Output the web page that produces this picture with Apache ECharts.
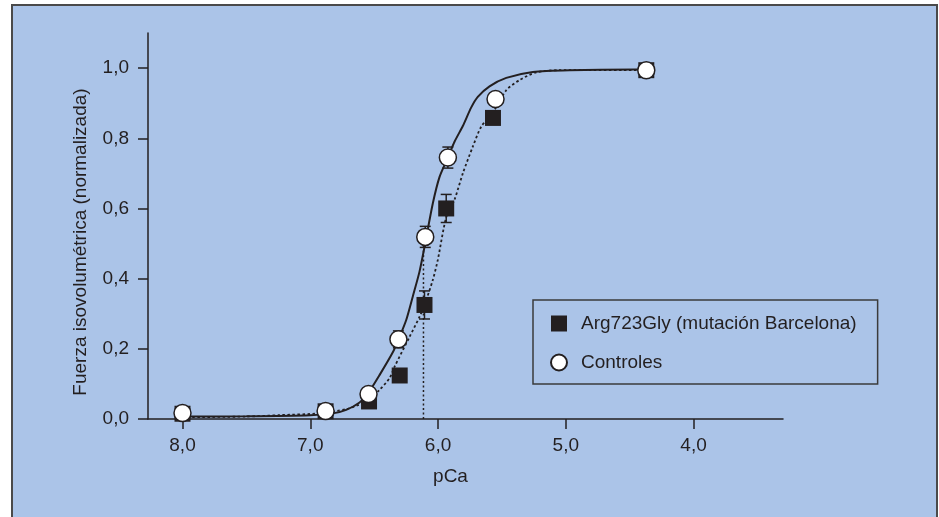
<!DOCTYPE html>
<html>
<head>
<meta charset="utf-8">
<script src="https://cdn.jsdelivr.net/npm/echarts@6/dist/echarts.min.js"></script>
<style>
    html, body { margin: 0; padding: 0; background: #fff; }
    #echart { width: 939px; height: 517px; }
</style>
</head>
<body>
<div id="echart"></div>
<script>
// ticks
var xTicks = [8, 7, 6, 5, 4];
var yTicks = [0, 0.2, 0.4, 0.6, 0.8, 1.0];

// Arg723Gly (cuadrados)
var mutX = [8.0, 6.88, 6.54, 6.30, 6.106, 5.936, 5.57, 4.37];
var mutY = [0.015, 0.022, 0.05, 0.124, 0.325, 0.600, 0.858, 0.994];
var mutErr = [0, 0.008, 0.008, 0.01, 0.04, 0.04, 0.01, 0];

// Controles (circulos)
var ctrlX = [8.0, 6.88, 6.544, 6.31, 6.10, 5.923, 5.55, 4.37];
var ctrlY = [0.017, 0.023, 0.071, 0.227, 0.519, 0.745, 0.912, 0.994];
var ctrlErr = [0.005, 0.01, 0.01, 0.024, 0.03, 0.03, 0.01, 0];

// curvas ajustadas
var ctrlCurveX = [8.0, 7.5, 7.0, 6.823, 6.719, 6.614, 6.55, 6.458, 6.354, 6.309, 6.249, 6.197, 6.145, 6.106, 6.041, 5.988, 5.923, 5.871, 5.806, 5.74, 5.689, 5.597, 5.466, 5.258, 4.971, 4.449, 4.37];
var ctrlCurveY = [0.007, 0.008, 0.011, 0.016, 0.026, 0.047, 0.072, 0.125, 0.19, 0.227, 0.282, 0.35, 0.42, 0.49, 0.614, 0.69, 0.745, 0.79, 0.835, 0.888, 0.918, 0.948, 0.972, 0.989, 0.994, 0.996, 0.996];
var mutCurveX = [8.0, 7.5, 7.241, 6.928, 6.719, 6.589, 6.542, 6.458, 6.38, 6.34, 6.223, 6.145, 6.106, 6.041, 6.002, 5.936, 5.871, 5.806, 5.728, 5.662, 5.568, 5.466, 5.362, 5.231, 5.049, 4.37];
var mutCurveY = [0.005, 0.007, 0.011, 0.016, 0.028, 0.045, 0.055, 0.083, 0.116, 0.149, 0.234, 0.291, 0.325, 0.396, 0.453, 0.575, 0.625, 0.70, 0.776, 0.833, 0.875, 0.937, 0.966, 0.988, 0.994, 0.994];

// linea vertical pCa50
var pca50X = [6.114, 6.114];
var pca50Y = [0, 0.5];

var ink = '#231f20';
var font = 'Liberation Sans';
var fs = 19;

function pairs(xs, ys) {
    var out = [];
    for (var i = 0; i < xs.length; i++) {
        out.push([xs[i], ys[i]]);
    }
    return out;
}

function errorSeries(name, xs, ys, errs) {
    var data = [];
    for (var i = 0; i < xs.length; i++) {
        if (errs[i] > 0) data.push([xs[i], ys[i] - errs[i], ys[i] + errs[i]]);
    }
    return {
        type: 'custom',
        name: name,
        silent: true,
        z: 4,
        encode: {x: 0, y: [1, 2]},
        data: data,
        renderItem: function (params, api) {
            var lo = api.coord([api.value(0), api.value(1)]);
            var hi = api.coord([api.value(0), api.value(2)]);
            var w = 5.5;
            var st = {stroke: ink, lineWidth: 1.5};
            return {
                type: 'group',
                children: [
                    {type: 'line', shape: {x1: lo[0], y1: lo[1], x2: hi[0], y2: hi[1]}, style: st},
                    {type: 'line', shape: {x1: lo[0] - w, y1: lo[1], x2: lo[0] + w, y2: lo[1]}, style: st},
                    {type: 'line', shape: {x1: hi[0] - w, y1: hi[1], x2: hi[0] + w, y2: hi[1]}, style: st}
                ]
            };
        }
    };
}

function fmt(v) {
    return v.toFixed(1).replace('.', ',');
}

var myChart = echarts.init(document.getElementById('echart'));
myChart.setOption({
    backgroundColor: '#fff',
    animation: false,
    textStyle: {fontFamily: font},
    graphic: [{
        type: 'rect',
        z: -10,
        shape: {x: 12, y: 5, width: 925, height: 530},
        style: {fill: '#abc4e8', stroke: '#4a4a4a', lineWidth: 2}
    }],
    grid: {left: 148, right: 156, top: 33, bottom: 98},
    legend: {
        orient: 'vertical',
        left: 533,
        top: 300,
        padding: [14, 21, 12, 17],
        itemGap: 20,
        itemWidth: 16,
        itemHeight: 16,
        borderColor: '#3b3b3b',
        borderWidth: 1.5,
        data: ['Arg723Gly (mutación Barcelona)', 'Controles'],
        textStyle: {color: ink, fontSize: fs, fontFamily: font, padding: [0, 0, 0, 9]}
    },
    xAxis: {
        type: 'value',
        inverse: true,
        min: 3.3,
        max: 8.27,
        name: 'pCa',
        nameLocation: 'middle',
        nameGap: 48,
        nameTextStyle: {color: ink, fontSize: fs, fontFamily: font, padding: [0, 30, 0, 0]},
        axisLine: {onZero: false, lineStyle: {color: ink, width: 1.5}},
        axisTick: {customValues: xTicks, length: 10, lineStyle: {color: ink, width: 1.5}},
        axisLabel: {customValues: xTicks, margin: 17, color: ink, fontSize: fs, fontFamily: font, formatter: fmt},
        splitLine: {show: false}
    },
    yAxis: {
        type: 'value',
        min: 0,
        max: 1.1,
        name: 'Fuerza isovolumétrica (normalizada)',
        nameLocation: 'middle',
        nameGap: 58,
        nameTextStyle: {color: ink, fontSize: fs, fontFamily: font, padding: [0, 32, 0, 0]},
        axisLine: {show: true, onZero: false, lineStyle: {color: ink, width: 1.5}},
        axisTick: {show: true, customValues: yTicks, length: 10, lineStyle: {color: ink, width: 1.5}},
        axisLabel: {customValues: yTicks, margin: 19, color: ink, fontSize: fs, fontFamily: font, formatter: fmt},
        splitLine: {show: false}
    },
    series: [
        {
            name: 'curva mut',
            type: 'line',
            smooth: 0.25,
            symbol: 'none',
            silent: true,
            z: 2,
            lineStyle: {color: ink, width: 1.8, type: [2.5, 2.5]},
            data: pairs(mutCurveX, mutCurveY)
        },
        {
            name: 'curva ctrl',
            type: 'line',
            smooth: 0.25,
            symbol: 'none',
            silent: true,
            z: 2,
            lineStyle: {color: ink, width: 2},
            data: pairs(ctrlCurveX, ctrlCurveY)
        },
        {
            name: 'pCa50',
            type: 'line',
            symbol: 'none',
            silent: true,
            z: 2,
            lineStyle: {color: ink, width: 1.5, type: [2, 2.5]},
            data: pairs(pca50X, pca50Y)
        },
        errorSeries('err mut', mutX, mutY, mutErr),
        errorSeries('err ctrl', ctrlX, ctrlY, ctrlErr),
        {
            name: 'Arg723Gly (mutación Barcelona)',
            type: 'scatter',
            symbol: 'rect',
            symbolSize: 16,
            z: 5,
            itemStyle: {color: ink, opacity: 1},
            data: pairs(mutX, mutY)
        },
        {
            name: 'Controles',
            type: 'scatter',
            symbol: 'circle',
            symbolSize: 17,
            z: 6,
            itemStyle: {color: '#fff', borderColor: ink, borderWidth: 1.5, opacity: 1},
            data: pairs(ctrlX, ctrlY)
        }
    ]
});
</script>
</body>
</html>
